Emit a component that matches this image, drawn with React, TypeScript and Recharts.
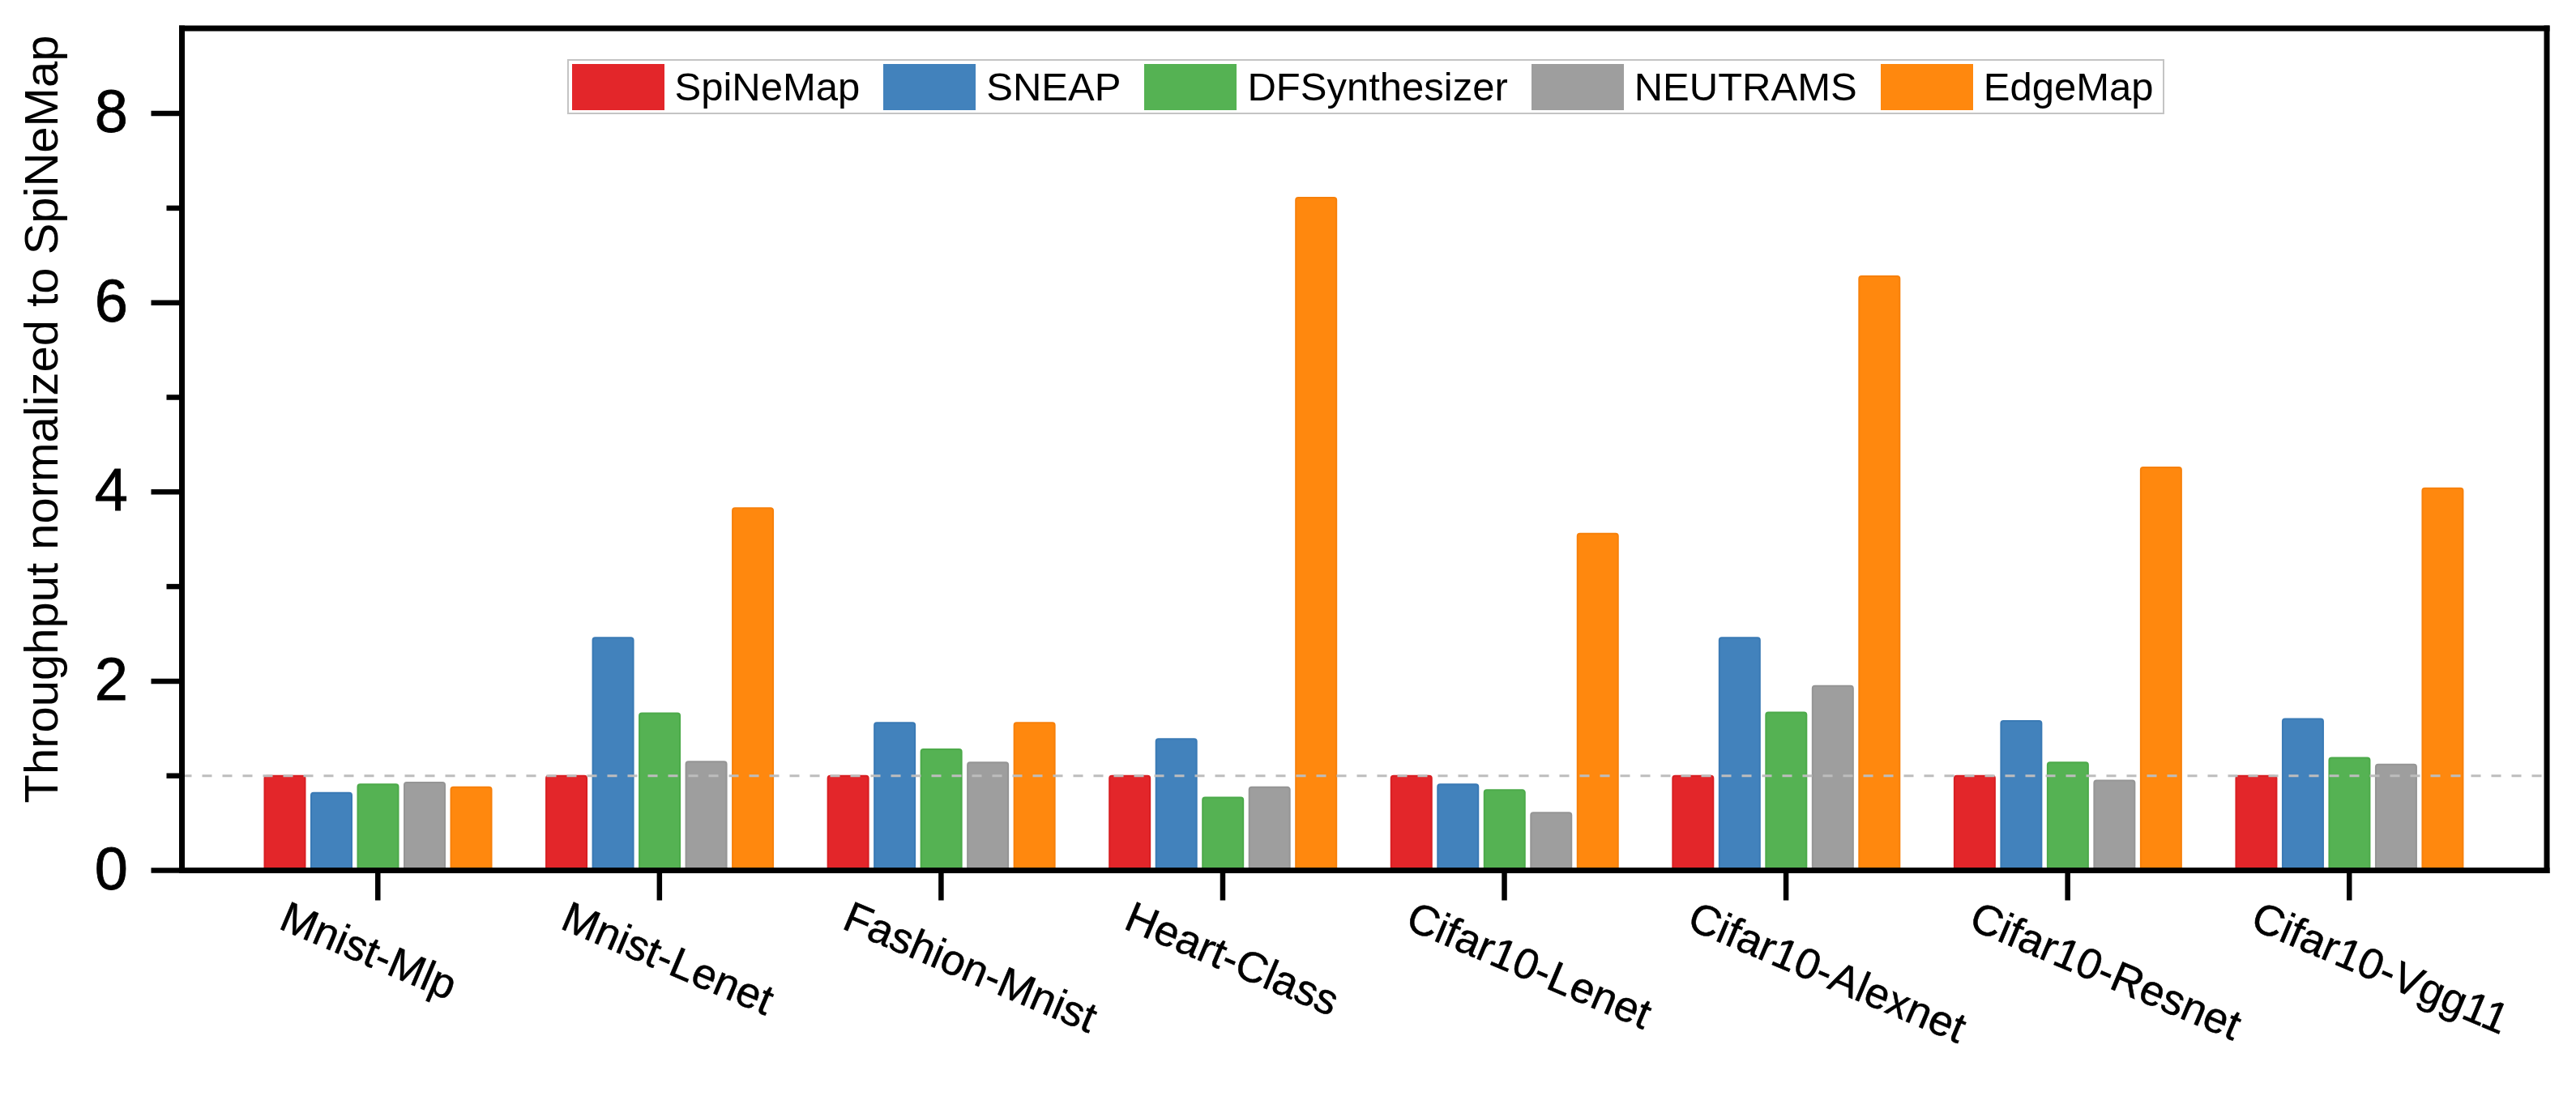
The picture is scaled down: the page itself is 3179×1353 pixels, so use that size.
import React from 'react';
import { BarChart, Bar, XAxis, YAxis, ReferenceLine, Legend } from 'recharts';

const categories = [
  'Mnist-Mlp',
  'Mnist-Lenet',
  'Fashion-Mnist',
  'Heart-Class',
  'Cifar10-Lenet',
  'Cifar10-Alexnet',
  'Cifar10-Resnet',
  'Cifar10-Vgg11',
];
const spiNeMap = [1, 1, 1, 1, 1, 1, 1, 1];
const sneap = [0.82, 2.46, 1.56, 1.39, 0.91, 2.46, 1.58, 1.6];
const dfSynthesizer = [0.91, 1.66, 1.28, 0.77, 0.85, 1.67, 1.14, 1.19];
const neutrams = [0.93, 1.15, 1.14, 0.88, 0.61, 1.95, 0.95, 1.12];
const edgeMap = [0.88, 3.83, 1.56, 7.11, 3.56, 6.28, 4.26, 4.04];

const seriesNames = ['SpiNeMap', 'SNEAP', 'DFSynthesizer', 'NEUTRAMS', 'EdgeMap'];
const seriesValues = [spiNeMap, sneap, dfSynthesizer, neutrams, edgeMap];
const seriesColors = ['#E3262A', '#4282BC', '#55B253', '#9E9E9E', '#FF880E'];
const seriesEdges = ['#D81F23', '#3A7AB5', '#4CAA4A', '#959595', '#F7800A'];

const yTicks = [0, 1, 2, 3, 4, 5, 6, 7, 8];
const yDomain = [0, 8.9];
const yLabel = 'Throughput normalized to SpiNeMap';
const baselineValue = 1;

const FONT = '"Liberation Sans", Arial, Helvetica, sans-serif';

const data = categories.map((name, i) => {
  const row: Record<string, any> = { name };
  seriesNames.forEach((s, k) => {
    row[s] = seriesValues[k][i];
  });
  return row;
});

const YTick = (props: any) => {
  const { x, y, payload } = props;
  const v = payload.value;
  const major = v % 2 === 0;
  return (
    <g>
      <line x1={x} x2={x - (major ? 38 : 19)} y1={y} y2={y} stroke="#000" strokeWidth={6.5} />
      {major && (
        <text
          x={x - 66.5}
          y={y + 23}
          textAnchor="end"
          fontSize={74}
          fontFamily={FONT}
          fill="#000"
          stroke="#000"
          strokeWidth={0.8}
        >
          {v}
        </text>
      )}
    </g>
  );
};

const XTick = (props: any) => {
  const { x, y, payload } = props;
  const ax = x - 124;
  const ay = y + 34;
  return (
    <text
      x={ax}
      y={ay}
      transform={`rotate(23 ${ax} ${ay})`}
      fontSize={53}
      fontFamily={FONT}
      fill="#000"
      stroke="#000"
      strokeWidth={0.5}
      textAnchor="start"
    >
      {payload.value}
    </text>
  );
};

const YLabel = () => (
  <text
    x={63}
    y={509.5}
    transform="rotate(-90 63 509.5)"
    textAnchor="middle"
    fontSize={58}
    fontFamily={FONT}
    fill="#000"
  >
    {yLabel}
  </text>
);

const LegendContent = (props: any) => {
  const payload = [...(props.payload || [])].sort(
    (a: any, b: any) => seriesNames.indexOf(a.value) - seriesNames.indexOf(b.value)
  );
  return (
    <div
      style={{
        boxSizing: 'border-box',
        width: '100%',
        height: '100%',
        border: '2px solid #c4c4c4',
        display: 'flex',
        alignItems: 'center',
        paddingLeft: 4,
        background: '#fff',
      }}
    >
      {payload.map((e: any, i: number) => {
        const idx = seriesNames.indexOf(e.value);
        return (
          <div key={i} style={{ display: 'flex', alignItems: 'center', marginLeft: i === 0 ? 0 : 29 }}>
            <div style={{ width: 114, height: 57, background: seriesColors[idx], marginRight: 13 }} />
            <span style={{ fontSize: 49, fontFamily: FONT, lineHeight: 1, color: '#000', whiteSpace: 'nowrap' }}>
              {e.value}
            </span>
          </div>
        );
      })}
    </div>
  );
};

const axisLineStyle = { stroke: '#000', strokeWidth: 7, strokeLinecap: 'square' as const };

export default function App() {
  return (
    <div style={{ width: 3163, height: 1337, background: '#fff' }}>
      <BarChart
        width={3163}
        height={1337}
        data={data}
        margin={{ top: 0, right: 0, bottom: 0, left: 0 }}
        barSize={50}
        barGap={7.5}
      >
        {seriesNames.map((n, i) => (
          <Bar
            key={n}
            dataKey={n}
            name={n}
            fill={seriesColors[i]}
            stroke={seriesEdges[i]}
            strokeWidth={2}
            radius={[3, 3, 0, 0]}
            isAnimationActive={false}
          />
        ))}
        <ReferenceLine y={baselineValue} stroke="#bdbdbd" strokeDasharray="12 13" strokeWidth={3} />
        <Legend
          layout="horizontal"
          verticalAlign="middle"
          align="center"
          itemSorter={null as any}
          wrapperStyle={{ left: 691.5, top: 65.3, width: 1971, height: 68 }}
          content={<LegendContent />}
        />
        <XAxis
          dataKey="name"
          padding={{ left: 68, right: 70 }}
          height={270.5}
          tickSize={37}
          tickMargin={0}
          interval={0}
          tickLine={{ stroke: '#000', strokeWidth: 6.5 }}
          axisLine={axisLineStyle}
          tick={<XTick />}
        />
        <XAxis
          xAxisId="top"
          orientation="top"
          dataKey="name"
          height={27}
          tick={false}
          tickLine={false}
          axisLine={axisLineStyle}
        />
        <YAxis
          type="number"
          domain={yDomain}
          ticks={yTicks}
          interval={0}
          width={216.5}
          tickSize={0}
          tickMargin={0}
          tickLine={false}
          axisLine={axisLineStyle}
          tick={<YTick />}
          label={<YLabel />}
        />
        <YAxis
          yAxisId="right"
          orientation="right"
          type="number"
          domain={yDomain}
          width={28}
          tick={false}
          tickLine={false}
          axisLine={axisLineStyle}
        />
      </BarChart>
    </div>
  );
}
